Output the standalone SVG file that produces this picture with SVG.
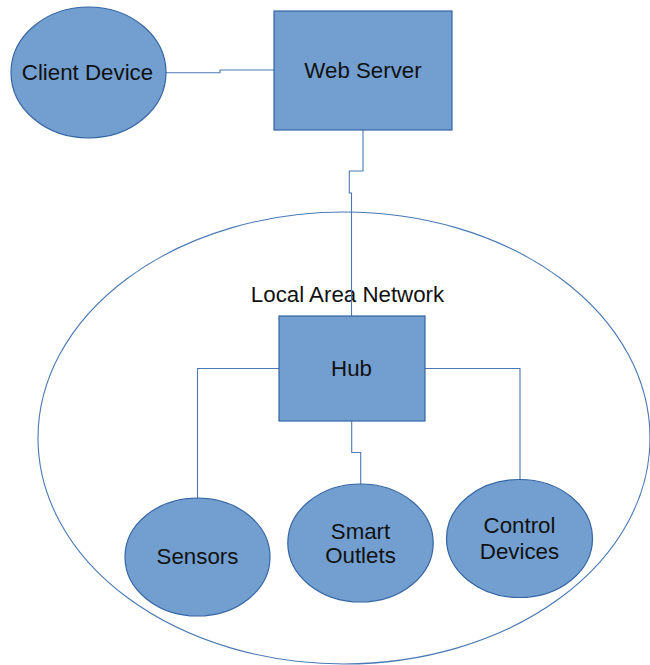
<svg xmlns="http://www.w3.org/2000/svg" width="650" height="665" viewBox="0 0 650 665">
<style>
.node{fill:#729fcf;stroke:#3465a4;stroke-width:1.2}
.lan{fill:none;stroke:#4a78b4;stroke-width:1.1}
.conn{fill:none;stroke:#4a78b4;stroke-width:1.1}
text{font-family:"Liberation Sans",Arial,sans-serif;font-size:22.3px;fill:#111;text-anchor:middle}
</style>
<rect width="650" height="665" fill="#fff"/>
<g id="lan">
<ellipse class="lan" cx="344" cy="438" rx="306" ry="226"/>
<text x="347.5" y="302">Local Area Network</text>
</g>
<g id="connectors">
<path class="conn" d="M166,72.7 H220 V70 H274"/>
<path class="conn" d="M363,130 V171 H349.3 V193 H351.5 V316"/>
<path class="conn" d="M279,368.5 H197.5 V498"/>
<path class="conn" d="M425,368.5 H520 V479.5"/>
<path class="conn" d="M351.7,421 V452.5 H360.7 V484"/>
</g>
<g id="client-device">
<ellipse class="node" cx="88.5" cy="72.5" rx="77.5" ry="65.5"/>
<text x="87.5" y="80">Client Device</text>
</g>
<g id="web-server">
<rect class="node" x="274" y="11" width="178" height="119"/>
<text x="363" y="77.5">Web Server</text>
</g>
<g id="hub">
<rect class="node" x="279" y="316" width="146" height="105"/>
<text x="351.5" y="376">Hub</text>
</g>
<g id="sensors">
<ellipse class="node" cx="197.5" cy="557" rx="72.5" ry="59"/>
<text x="197.5" y="564">Sensors</text>
</g>
<g id="smart-outlets">
<ellipse class="node" cx="360.5" cy="543" rx="72.7" ry="59"/>
<text x="360.5" y="538.5">Smart</text>
<text x="360.5" y="562.7">Outlets</text>
</g>
<g id="control-devices">
<ellipse class="node" cx="519.5" cy="538.5" rx="73" ry="59"/>
<text x="519.5" y="533.3">Control</text>
<text x="519.5" y="559.3">Devices</text>
</g>
</svg>
